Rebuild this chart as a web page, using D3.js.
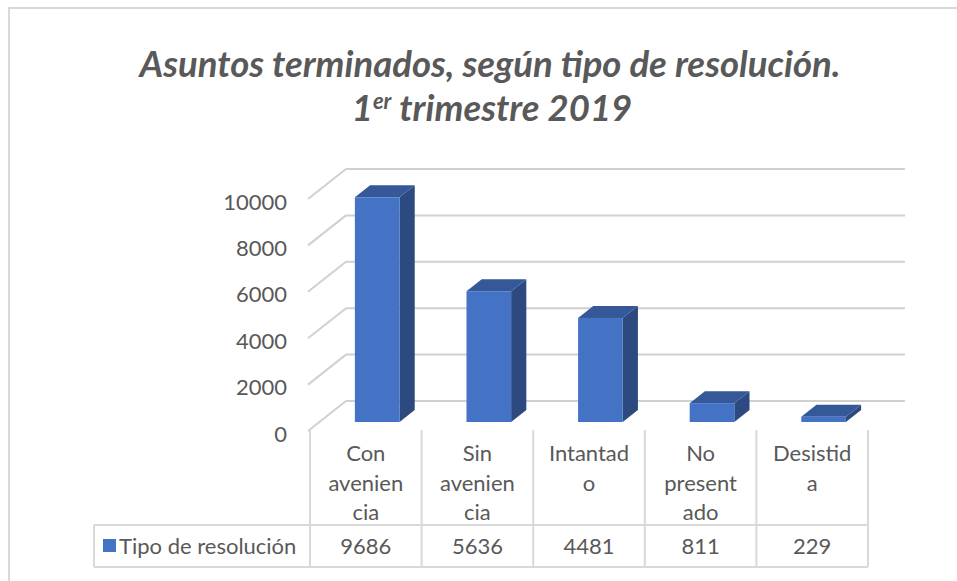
<!DOCTYPE html>
<html>
<head>
<meta charset="utf-8">
<script src="https://cdn.jsdelivr.net/npm/d3@7/dist/d3.min.js"></script>
<style>
  html, body { margin: 0; padding: 0; background: #ffffff; }
  svg { display: block; }
  text { font-family: Lato, "Open Sans", "Liberation Sans", sans-serif; fill: #595959; }
</style>
</head>
<body>
<svg id="chart" width="957" height="581"></svg>
<script>
// Asuntos terminados por tipo de resolución, 1er trimestre 2019
const categories = ["Con avenencia", "Sin avenencia", "Intantado", "No presentado", "Desistida"];
const categoryLines = [["Con", "avenien", "cia"], ["Sin", "avenien", "cia"], ["Intantad", "o"], ["No", "present", "ado"], ["Desistid", "a"]];
const values = [9686, 5636, 4481, 811, 229];
const seriesName = "Tipo de resolución";
const yTicks = [0, 2000, 4000, 6000, 8000, 10000];

const svg = d3.select("#chart");
const W = 957, H = 581;

// outer frame (left and top edges visible)
svg.append("rect").attr("x", 9).attr("y", 8).attr("width", W + 20).attr("height", H + 20)
  .attr("fill", "none").attr("stroke", "#d9d9d9").attr("stroke-width", 2);

// title
const titleSize = 36.5;
svg.append("text").attr("text-anchor", "middle").attr("x", 490).attr("y", 77)
  .style("font-weight", "bold").style("font-style", "italic").style("font-size", titleSize + "px")
  .text("Asuntos terminados, según tipo de resolución.");
const t2 = svg.append("text").attr("text-anchor", "middle").attr("x", 492).attr("y", 121)
  .style("font-weight", "bold").style("font-style", "italic").style("font-size", titleSize + "px");
t2.append("tspan").text("1");
t2.append("tspan").attr("dy", -12).style("font-size", "22px").text("er");
t2.append("tspan").attr("dy", 12).text(" trimestre 2019");

// 3D plot geometry: front plane and depth offset
const x0 = 310, x1 = 868;
const depthX = 38, depthY = -30;
const x = d3.scaleBand().domain(categories).range([x0, x1]).paddingInner(0).paddingOuter(0);
const y = d3.scaleLinear().domain([0, 10000]).range([431, 199]);

// back wall gridlines plus left wall diagonals
const grid = svg.append("g");
yTicks.forEach(t => {
  const yf = y(t);
  grid.append("line")
    .attr("x1", x0 - 2).attr("y1", yf).attr("x2", x0 - 2 + depthX).attr("y2", yf + depthY)
    .attr("stroke", "#d0d0d0").attr("stroke-width", 2);
  grid.append("line")
    .attr("x1", x0 - 2 + depthX).attr("y1", yf + depthY).attr("x2", x1 + depthX - 1).attr("y2", yf + depthY)
    .attr("stroke", "#d0d0d0").attr("stroke-width", 2);
});

// y axis labels
const yAxis = d3.axisLeft(y).tickValues(yTicks).tickSize(0).tickPadding(0).tickFormat(d3.format("d"));
const ya = svg.append("g").attr("transform", "translate(287,3)").call(yAxis);
ya.select(".domain").remove();
ya.selectAll("text").style("font-size", "22px").style("fill", "#595959")
  .style("font-family", "Lato, 'Open Sans', sans-serif");

// 3D bars
const fFront = 0.3, fBack = 0.7;
const barW = x.bandwidth() * 0.4;
const sideX = (fBack - fFront) * depthX, sideY = (fBack - fFront) * depthY;
const bars = svg.append("g");
categories.forEach((c, i) => {
  const v = values[i];
  const bx = x(c) + (x.bandwidth() - barW) / 2 + fFront * depthX;
  const yb = y(0) + fFront * depthY;
  const yt = y(v) + fFront * depthY;
  // side face
  bars.append("path")
    .attr("d", `M${bx + barW},${yt} L${bx + barW + sideX},${yt + sideY} L${bx + barW + sideX},${yb + sideY} L${bx + barW},${yb} Z`)
    .attr("fill", "#2c4a80");
  // top face
  bars.append("path")
    .attr("d", `M${bx},${yt} L${bx + sideX},${yt + sideY} L${bx + barW + sideX},${yt + sideY} L${bx + barW},${yt} Z`)
    .attr("fill", "#345898");
  // front face
  bars.append("rect").attr("x", bx).attr("y", yt).attr("width", barW).attr("height", yb - yt)
    .attr("fill", "#4472c4");
});

// data table
const tbl = svg.append("g");
const rowTop = 525, rowBot = 567, tblLeft = 94;
const lineColor = "#d9d9d9";
const edges = [x0].concat(categories.map(c => x(c) + x.bandwidth()));
edges.forEach(ex => {
  tbl.append("line").attr("x1", ex).attr("x2", ex).attr("y1", 430).attr("y2", rowBot)
    .attr("stroke", lineColor).attr("stroke-width", 2);
});
tbl.append("line").attr("x1", tblLeft).attr("x2", x1).attr("y1", rowTop).attr("y2", rowTop)
  .attr("stroke", lineColor).attr("stroke-width", 2);
tbl.append("line").attr("x1", tblLeft).attr("x2", x1).attr("y1", rowBot).attr("y2", rowBot)
  .attr("stroke", lineColor).attr("stroke-width", 2);
tbl.append("line").attr("x1", tblLeft).attr("x2", tblLeft).attr("y1", rowTop).attr("y2", rowBot)
  .attr("stroke", lineColor).attr("stroke-width", 2);

// category labels (wrapped)
categories.forEach((c, i) => {
  const cx = x(c) + x.bandwidth() / 2;
  categoryLines[i].forEach((ln, j) => {
    tbl.append("text").attr("x", cx).attr("y", 461 + j * 29.5).attr("text-anchor", "middle")
      .style("font-size", "22px").text(ln);
  });
  tbl.append("text").attr("x", cx).attr("y", 554).attr("text-anchor", "middle")
    .style("font-size", "22px").text(values[i]);
});

// legend key + series name
tbl.append("rect").attr("x", 103).attr("y", 539).attr("width", 13).attr("height", 13).attr("fill", "#4472c4");
tbl.append("text").attr("x", 119).attr("y", 554).style("font-size", "22px").text(seriesName);
</script>
</body>
</html>
